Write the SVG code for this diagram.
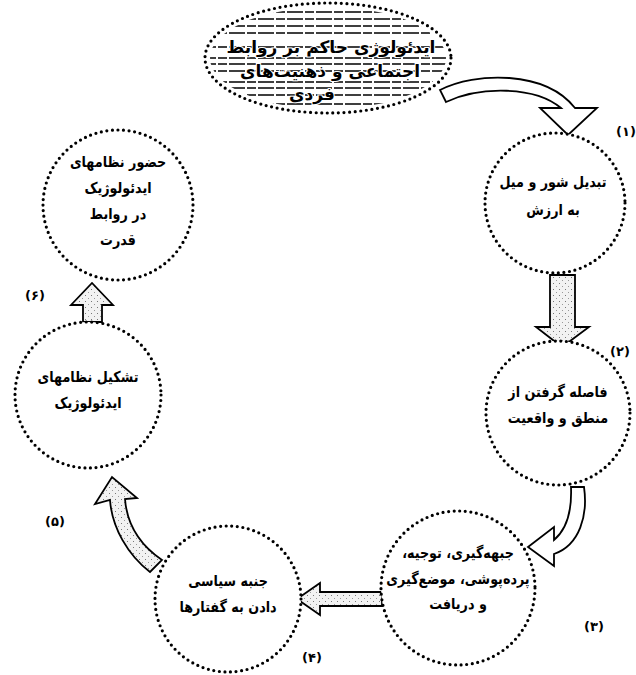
<svg xmlns="http://www.w3.org/2000/svg" width="636" height="675" viewBox="0 0 636 675">
<style>
.bg{fill:#fff}
.dc{fill:#fff;stroke:#000;stroke-width:3.2;stroke-linecap:round;stroke-dasharray:0 5.6}
.t{font-family:"DejaVu Sans",sans-serif;font-size:15px;font-weight:bold;fill:#000;text-anchor:middle}
.lb{font-family:"DejaVu Sans",sans-serif;font-size:13px;font-weight:bold;fill:#000;text-anchor:middle}
.ct{font-family:"DejaVu Sans",sans-serif;font-size:17px;font-weight:bold;fill:#000;text-anchor:middle;stroke:#fff;stroke-width:2;paint-order:stroke}
.arw{fill:#fff;stroke:#000;stroke-width:1.8;stroke-linejoin:miter}
.arg{fill:url(#speck);stroke:#000;stroke-width:1.8}
.hatch{stroke:#000;stroke-width:1.3;stroke-dasharray:16 2 9 2}
</style>
<defs>
<pattern id="speck" width="6" height="6" patternUnits="userSpaceOnUse">
<rect width="6" height="6" fill="#f2f2f2"/>
<rect x="1" y="1" width="1" height="1" fill="#777"/>
<rect x="4" y="4" width="1" height="1" fill="#999"/>
</pattern>
<clipPath id="cloudclip"><ellipse cx="328" cy="58" rx="118" ry="51"/></clipPath>
</defs>
<rect class="bg" width="636" height="675"/>

<g id="cloud">
<ellipse class="dc" cx="328" cy="58" rx="123" ry="55"/>
<g clip-path="url(#cloudclip)">
<line class="hatch" x1="200" y1="12" x2="460" y2="12"/>
<line class="hatch" x1="200" y1="19" x2="460" y2="19"/>
<line class="hatch" x1="200" y1="26" x2="460" y2="26"/>
<line class="hatch" x1="200" y1="33" x2="460" y2="33"/>
<line class="hatch" x1="200" y1="47" x2="460" y2="47"/>
<line class="hatch" x1="200" y1="58" x2="460" y2="58"/>
<line class="hatch" x1="200" y1="64" x2="460" y2="64"/>
<line class="hatch" x1="200" y1="71" x2="460" y2="71"/>
<line class="hatch" x1="200" y1="82" x2="460" y2="82"/>
<line class="hatch" x1="200" y1="88" x2="460" y2="88"/>
<line class="hatch" x1="200" y1="95" x2="460" y2="95"/>
<line class="hatch" x1="200" y1="104" x2="460" y2="104"/>
</g>
<text class="ct" x="331" y="53" direction="rtl">ایدئولوژی حاکم بر روابط</text>
<text class="ct" x="330" y="77" direction="rtl">اجتماعی و ذهنیت‌های</text>
<text class="ct" x="312" y="100" direction="rtl">فردی</text>
</g>

<g id="connectors">
<path class="arw" d="M440,90 C475,72 545,70 575,108 L597,108 L568,135 L540,108 L561,108 C535,86 480,86 446,102 Z"/>
<path class="arg" d="M550,275 L575,275 L575,327 L589,327 L562,347 L536,327 L550,327 Z"/>
<path class="arw" d="M571,487 L584,487 C588,515 580,545 554,554 L554,566 L528,547 L554,527 L554,540 C566,530 572,512 571,487 Z"/>
<path class="arg" d="M382,592 L320,592 L320,583 L297,599 L320,615 L320,606 L382,606 Z"/>
<path class="arg" d="M162,560 C140,545 127,525 125,499 L137,498 L112,477 L95,504 L110,500 C112,528 128,555 150,572 Z"/>
<path class="arg" d="M83,322 L102,322 L102,305 L113,305 L92,283 L71,305 L83,305 Z"/>
</g>

<g id="n1">
<circle class="dc" cx="555" cy="203" r="70"/>
<text class="t" transform="translate(553,187) scale(0.85,1)" direction="rtl">تبدیل شور و میل</text>
<text class="t" transform="translate(553,215) scale(0.85,1)" direction="rtl">به ارزش</text>
<text class="lb" x="626" y="136">(۱)</text>
</g>

<g id="n2">
<circle class="dc" cx="558" cy="413" r="72"/>
<text class="t" transform="translate(558,397) scale(0.85,1)" direction="rtl">فاصله گرفتن از</text>
<text class="t" transform="translate(558,423) scale(0.85,1)" direction="rtl">منطق و واقعیت</text>
<text class="lb" x="620" y="356">(۲)</text>
</g>

<g id="n3">
<circle class="dc" cx="458" cy="588" r="77"/>
<text class="t" transform="translate(458,558) scale(0.85,1)" direction="rtl">جبهه‌گیری، توجیه،</text>
<text class="t" transform="translate(458,584) scale(0.85,1)" direction="rtl">پرده‌پوشی، موضع‌گیری</text>
<text class="t" transform="translate(458,609) scale(0.85,1)" direction="rtl">و دریافت</text>
<text class="lb" x="594" y="631">(۳)</text>
</g>

<g id="n4">
<circle class="dc" cx="228" cy="599" r="73"/>
<text class="t" transform="translate(228,586) scale(0.85,1)" direction="rtl">جنبه سیاسی</text>
<text class="t" transform="translate(228,612) scale(0.85,1)" direction="rtl">دادن به گفتارها</text>
<text class="lb" x="312" y="662">(۴)</text>
</g>

<g id="n5">
<circle class="dc" cx="88" cy="395" r="73"/>
<text class="t" transform="translate(88,382) scale(0.85,1)" direction="rtl">تشکیل نظامهای</text>
<text class="t" transform="translate(88,408) scale(0.85,1)" direction="rtl">ایدئولوژیک</text>
<text class="lb" x="55" y="526">(۵)</text>
</g>

<g id="n6">
<circle class="dc" cx="118" cy="205" r="75"/>
<text class="t" transform="translate(118,167) scale(0.85,1)" direction="rtl">حضور نظامهای</text>
<text class="t" transform="translate(118,193) scale(0.85,1)" direction="rtl">ایدئولوژیک</text>
<text class="t" transform="translate(118,219) scale(0.85,1)" direction="rtl">در روابط</text>
<text class="t" transform="translate(118,245) scale(0.85,1)" direction="rtl">قدرت</text>
<text class="lb" x="35" y="300">(۶)</text>
</g>
</svg>
